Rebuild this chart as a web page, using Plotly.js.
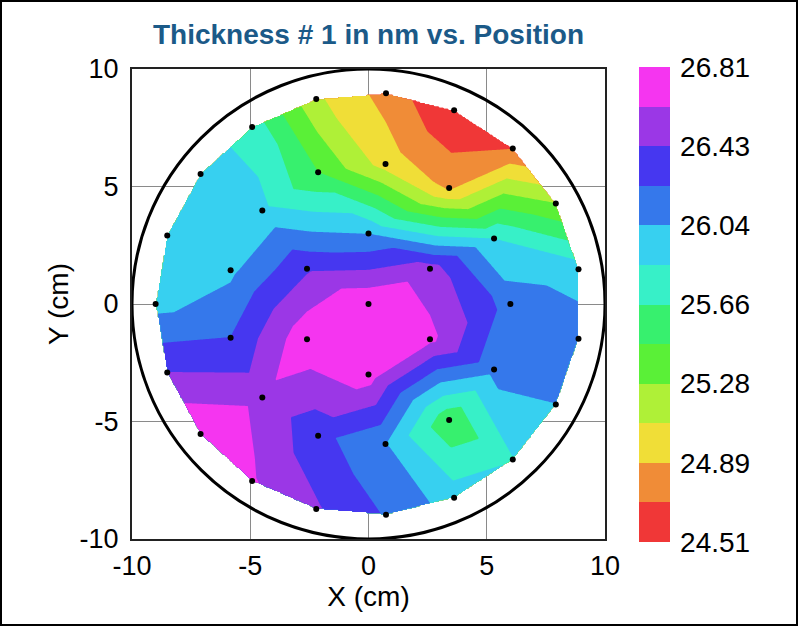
<!DOCTYPE html>
<html><head><meta charset="utf-8">
<script src="https://cdn.plot.ly/plotly-3.0.1.min.js"></script>
<style>html,body{margin:0;padding:0;background:#fff;}#chart{width:798px;height:626px;}</style>
</head><body><div id="chart"></div>
<script>
// Measurement sites (cm): centre, inner ring, middle ring, outer ring
const siteX = [0.00,
  2.60, 0.00, -2.60, -2.60, 0.00, 2.60,
  6.00, 5.31, 3.41, 0.72, -2.13, -4.49, -5.83, -5.83, -4.49, -2.13, 0.72, 3.41, 5.31,
  8.88, 7.92, 6.10, 3.62, 0.74, -2.21, -4.92, -7.10, -8.51, -9.00, -8.51, -7.10, -4.92, -2.21, 0.74, 3.62, 6.10, 7.92, 8.88];
const siteY = [0.00,
  1.50, 3.00, 1.50, -1.50, -3.00, -1.50,
  0.00, 2.79, 4.94, 5.96, 5.61, 3.98, 1.44, -1.44, -3.98, -5.61, -5.96, -4.94, -2.79,
  1.48, 4.28, 6.62, 8.24, 8.97, 8.72, 7.53, 5.53, 2.92, 0.00, -2.92, -5.53, -7.53, -8.72, -8.97, -8.24, -6.62, -4.28, -1.48];
// Thickness # 1 (nm) at each site
const thickness = [26.79,
  26.52, 26.04, 26.40, 26.76, 26.72, 26.67,
  26.15, 25.85, 24.86, 25.00, 25.47, 25.90, 26.00, 26.24, 26.56, 26.30, 26.05, 25.50, 26.10,
  25.95, 25.28, 24.70, 24.51, 24.82, 25.12, 25.78, 25.95, 25.95, 25.98, 26.43, 26.81, 26.64, 26.45, 26.22, 25.95, 25.84, 26.04, 26.15];

// Colour bands, low -> high
const bandColors = ['#F03737','#F08C37','#F0DE37','#AFF037','#5AF037','#37F06E',
                    '#37F0C8','#37D0F0','#3578EB','#4637F0','#9B37E6','#F535F0'];
const zMin = 24.51, zMax = 26.81;
const cbTickVals = [24.51, 24.8933, 25.2767, 25.66, 26.0433, 26.4267, 26.81];
const cbTickText = ['24.51','24.89','25.28','25.66','26.04','26.43','26.81'];
const axisTicks = [-10, -5, 0, 5, 10];
const axisTickText = ['-10', '-5', '0', '5', '10'];

// ---- Delaunay triangulation (Bowyer-Watson) + linear interpolation ----
function delaunay(px, py) {
  const n = px.length;
  const P = px.map((x, i) => [x, py[i]]);
  P.push([-1000, -1000], [1000, -1000], [0, 1000]);
  let tris = [[n, n + 1, n + 2]];
  function circ(t) {
    const [ax, ay] = P[t[0]], [bx, by] = P[t[1]], [cx, cy] = P[t[2]];
    const d = 2 * (ax * (by - cy) + bx * (cy - ay) + cx * (ay - by));
    const ux = ((ax*ax+ay*ay)*(by-cy) + (bx*bx+by*by)*(cy-ay) + (cx*cx+cy*cy)*(ay-by)) / d;
    const uy = ((ax*ax+ay*ay)*(cx-bx) + (bx*bx+by*by)*(ax-cx) + (cx*cx+cy*cy)*(bx-ax)) / d;
    return [ux, uy, (ax-ux)*(ax-ux) + (ay-uy)*(ay-uy)];
  }
  for (let i = 0; i < n; i++) {
    const [x, y] = P[i];
    const bad = [], keep = [];
    for (const t of tris) {
      const c = circ(t);
      if ((x-c[0])*(x-c[0]) + (y-c[1])*(y-c[1]) < c[2] - 1e-9) bad.push(t); else keep.push(t);
    }
    const edges = [];
    for (const t of bad) edges.push([t[0], t[1]], [t[1], t[2]], [t[2], t[0]]);
    const boundary = edges.filter((e, k) => !edges.some((f, j) => j !== k &&
      ((f[0] === e[0] && f[1] === e[1]) || (f[0] === e[1] && f[1] === e[0]))));
    tris = keep.concat(boundary.map(e => [e[0], e[1], i]));
  }
  return tris.filter(t => t.every(v => v < n));
}
const tris = delaunay(siteX, siteY);
const step = 0.05;
const gx = [], gy = [];
for (let v = -9.05; v <= 9.0501; v += step) { gx.push(+v.toFixed(3)); gy.push(+v.toFixed(3)); }
const gz = gy.map(y => gx.map(x => {
  for (const t of tris) {
    const [a, b, c] = t;
    const x1 = siteX[a], y1 = siteY[a], x2 = siteX[b], y2 = siteY[b], x3 = siteX[c], y3 = siteY[c];
    const det = (y2 - y3) * (x1 - x3) + (x3 - x2) * (y1 - y3);
    const l1 = ((y2 - y3) * (x - x3) + (x3 - x2) * (y - y3)) / det;
    const l2 = ((y3 - y1) * (x - x3) + (x1 - x3) * (y - y3)) / det;
    const l3 = 1 - l1 - l2;
    if (l1 >= -1e-9 && l2 >= -1e-9 && l3 >= -1e-9)
      return l1 * thickness[a] + l2 * thickness[b] + l3 * thickness[c];
  }
  return null;
}));

// contour colourscale: Plotly samples fill colours at k/13 (k = 0..13)
const cs = (zMax - zMin) / 12;
const contourScale = [];
for (let k = 0; k <= 13; k++) contourScale.push([k / 13, bandColors[Math.min(11, Math.max(0, k - 1))]]);
// stepped colourscale for the colour bar
const barScale = [];
bandColors.forEach((c, i) => { barScale.push([i / 12, c]); barScale.push([(i + 1) / 12, c]); });

const font = 'Arial, "Liberation Sans", sans-serif';
const data = [
  { type: 'contour', x: gx, y: gy, z: gz, connectgaps: false, autocontour: false,
    contours: { start: zMin, end: zMax + 0.0005, size: cs, coloring: 'fill', showlines: false },
    line: { width: 0 }, colorscale: contourScale, showscale: false, hoverinfo: 'skip' },
  { type: 'scatter', mode: 'markers', x: siteX, y: siteY, hoverinfo: 'skip',
    marker: { opacity: 0, color: thickness, cmin: zMin, cmax: zMax, colorscale: barScale, showscale: true,
      colorbar: { thickness: 31, thicknessmode: 'pixels', len: 475, lenmode: 'pixels',
        x: 1.072, xanchor: 'left', xref: 'paper', y: 0.499, yanchor: 'middle', yref: 'paper',
        xpad: 0, ypad: 0, outlinewidth: 0,
        tickmode: 'array', tickvals: cbTickVals, ticktext: cbTickText,
        ticks: 'outside', ticklen: 5, tickcolor: 'rgba(0,0,0,0)',
        tickfont: { family: font, size: 28, color: '#000' } } } },
  { type: 'scatter', mode: 'markers', x: siteX, y: siteY, hoverinfo: 'skip',
    marker: { color: '#000', size: 6 } }
];
const axisBase = {
  range: [-10, 10], tickmode: 'array', tickvals: axisTicks, ticktext: axisTickText, ticks: '',
  showgrid: true, gridcolor: '#8a8a8a', gridwidth: 1, zeroline: false,
  showline: true, linecolor: '#222', linewidth: 2, mirror: true,
  tickfont: { family: font, size: 27, color: '#000' }, fixedrange: true
};
const layout = {
  width: 798, height: 626, paper_bgcolor: '#fff', plot_bgcolor: '#fff',
  margin: { l: 132, r: 193, t: 69, b: 87 }, showlegend: false,
  font: { family: font, color: '#000' },
  title: { text: '<b>Thickness # 1 in nm vs. Position</b>', font: { family: font, size: 28, color: '#1B5A88' },
    x: 0.5, xref: 'paper', xanchor: 'center', y: 1 - 34 / 626, yref: 'container', yanchor: 'middle' },
  xaxis: Object.assign({}, axisBase, { title: { text: 'X (cm)', font: { family: font, size: 28 }, standoff: 6 }, ticklabelstandoff: 2 }),
  yaxis: Object.assign({}, axisBase, { title: { text: 'Y (cm)', font: { family: font, size: 28 }, standoff: 3 }, ticklabelstandoff: 6 }),
  shapes: [
    { type: 'circle', xref: 'x', yref: 'y', x0: -10, y0: -10, x1: 10, y1: 10, line: { color: '#000', width: 3 }, layer: 'above' },
    { type: 'rect', xref: 'paper', yref: 'paper', x0: -131 / 473, x1: 665 / 473, y0: -86 / 470, y1: 538 / 470,
      line: { color: '#000', width: 2 }, layer: 'above' }
  ]
};
Plotly.newPlot('chart', data, layout, { staticPlot: true, displayModeBar: false });
</script></body></html>
